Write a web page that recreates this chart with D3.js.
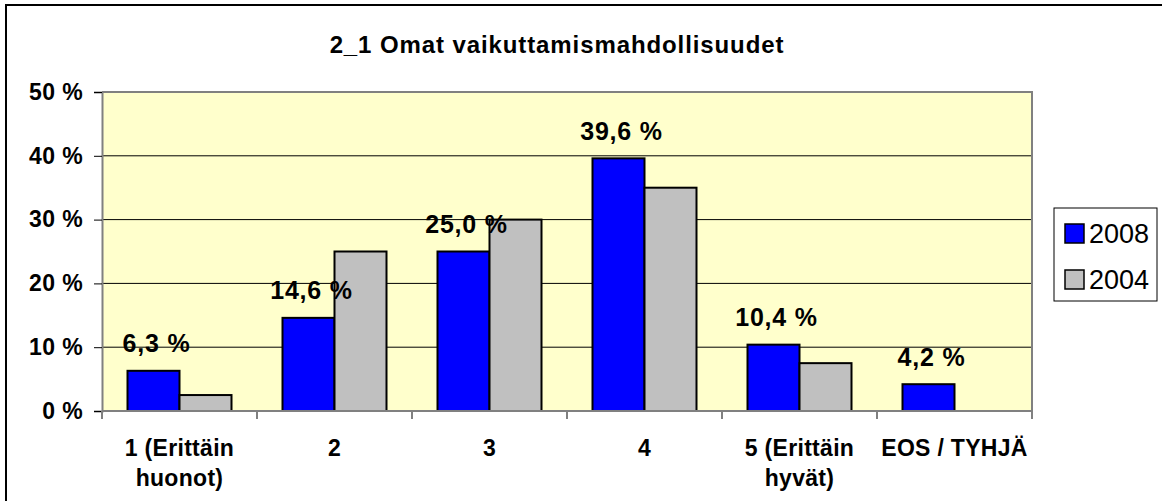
<!DOCTYPE html>
<html><head><meta charset="utf-8">
<script src="https://cdn.jsdelivr.net/npm/d3@7"></script>
<style>body{margin:0;background:#fff;} svg{display:block;font-family:Arial,"Liberation Sans",sans-serif;}</style>
</head><body>
<svg id="chart" width="1162" height="501"></svg>
<script>
const title = "2_1 Omat vaikuttamismahdollisuudet";
const categories = [["1 (Erittäin","huonot)"],["2"],["3"],["4"],["5 (Erittäin","hyvät)"],["EOS / TYHJÄ"]];
const seriesNames = ["2008","2004"];
const values2008 = [6.3, 14.6, 25.0, 39.6, 10.4, 4.2];
const values2004 = [2.5, 25.0, 30.0, 35.0, 7.5, 0];
const yTicks = [0,10,20,30,40,50];
const colors = ["#0000FF","#C0C0C0"];

const svg = d3.select("#chart");
const plot = {left:102, top:92, right:1032, bottom:411};
const FONT = "Arial, 'Liberation Sans', sans-serif";

// outer border
svg.append("rect").attr("x",6).attr("y",5).attr("width",1170).attr("height",510)
  .attr("fill","#fff").attr("stroke","#000").attr("stroke-width",2);

svg.append("text").attr("x",557).attr("y",53).attr("text-anchor","middle")
  .attr("font-size",24).attr("letter-spacing",0.9).attr("font-weight","bold").text(title);

const x = d3.scaleBand().domain(d3.range(categories.length)).range([plot.left, plot.right]);
const y = d3.scaleLinear().domain([0,50]).range([plot.bottom, plot.top]);
const inner = 52;

svg.append("rect").attr("x",plot.left).attr("y",plot.top)
  .attr("width",plot.right-plot.left).attr("height",plot.bottom-plot.top)
  .attr("fill","#FFFFCC");

// gridlines
svg.append("g").selectAll("line").data(yTicks.filter(t=>t>0&&t<50)).join("line")
  .attr("x1",plot.left).attr("x2",plot.right)
  .attr("y1",d=>y(d)).attr("y2",d=>y(d)).attr("stroke","#000").attr("stroke-width",1);

// plot border top/right
svg.append("path").attr("d",`M${plot.left},${plot.top}H${plot.right}V${plot.bottom}`)
  .attr("fill","none").attr("stroke","#808080").attr("stroke-width",2);

// bars
const series = [values2008, values2004];
series.forEach((vals,si)=>{
  svg.append("g").selectAll("rect").data(vals.map((v,i)=>({v,i})).filter(d=>d.v>0)).join("rect")
    .attr("x",d=>x(d.i)+(x.bandwidth()-2*inner)/2+si*inner)
    .attr("y",d=>y(d.v)).attr("width",inner).attr("height",d=>y(0)-y(d.v))
    .attr("fill",colors[si]).attr("stroke","#000").attr("stroke-width",2);
});

// data labels
svg.append("g").selectAll("text").data(values2008.map((v,i)=>({v,i}))).join("text")
  .attr("x",d=>x(d.i)+(x.bandwidth()-2*inner)/2+inner/2+3)
  .attr("y",d=>y(d.v)-18.5).attr("text-anchor","middle")
  .attr("font-size",25).attr("letter-spacing",0.8).attr("font-weight","bold")
  .text(d=>d.v.toFixed(1).replace(".",",")+" %");

// y axis
const yAxis = svg.append("g").attr("transform",`translate(${plot.left},0)`)
  .call(d3.axisLeft(y).tickValues(yTicks).tickSize(8).tickPadding(11).tickFormat(d=>d+" %"));
yAxis.select(".domain").attr("stroke","#808080").attr("stroke-width",2);
yAxis.selectAll(".tick line").attr("stroke","#000");
yAxis.selectAll("text").attr("font-size",23).attr("letter-spacing",0.4).attr("font-weight","bold").attr("font-family",FONT).attr("fill","#000");

// x axis
const xb = svg.append("g").attr("transform",`translate(0,${plot.bottom})`);
xb.append("line").attr("x1",plot.left).attr("x2",plot.right).attr("stroke","#808080").attr("stroke-width",2);
xb.selectAll("line.t").data(d3.range(categories.length+1)).join("line").attr("class","t")
  .attr("x1",d=>plot.left+d*x.bandwidth()).attr("x2",d=>plot.left+d*x.bandwidth())
  .attr("y1",0).attr("y2",8).attr("stroke","#808080").attr("stroke-width",2);
xb.selectAll("text").data(categories).join("text")
  .attr("x",(d,i)=>x(i)+x.bandwidth()/2).attr("y",45).attr("text-anchor","middle")
  .attr("font-size",23).attr("letter-spacing",0.3).attr("font-weight","bold")
  .selectAll("tspan").data(d=>d).join("tspan")
  .attr("x",function(){return this.parentNode.getAttribute("x");})
  .attr("dy",(d,i)=>i?30:0).text(d=>d);

// legend
const lg = svg.append("g");
lg.append("rect").attr("x",1054).attr("y",208).attr("width",103).attr("height",93)
  .attr("fill","#fff").attr("stroke","#000").attr("stroke-width",1);
seriesNames.forEach((n,i)=>{
  lg.append("rect").attr("x",1065).attr("y",224+i*46).attr("width",19).attr("height",19)
    .attr("fill",colors[i]).attr("stroke","#000").attr("stroke-width",1.5);
  lg.append("text").attr("x",1089).attr("y",243+i*46).attr("font-size",27).text(n);
});
</script>
</body></html>
